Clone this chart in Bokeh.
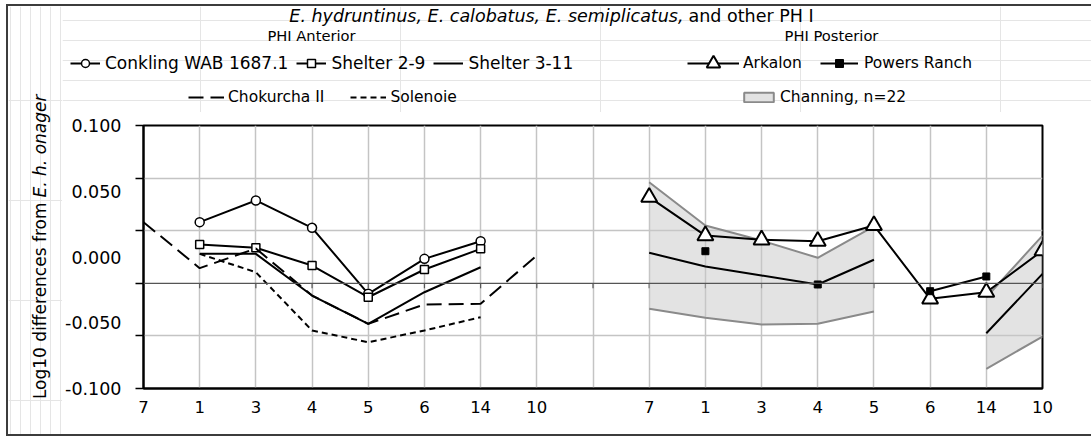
import math
from bokeh.plotting import figure
from bokeh.layouts import row, column
from bokeh.models import (Range1d, FixedTicker, PrintfTickFormatter, Label, Legend,
                          LegendItem, Span, Spacer)
from bokeh.embed import file_html
from bokeh.resources import INLINE

nan = float("nan")
FONT = "DejaVu Sans"

# ---------------- data ----------------
x_labels = ["7", "1", "3", "4", "5", "6", "14", "10"]

# PHI Anterior
conkling = [nan, 0.0265, 0.0430, 0.0222, -0.0280, -0.0014, 0.0120, nan]
shelter_2_9 = [nan, 0.0095, 0.0070, -0.0065, -0.0306, -0.0095, 0.0062, nan]
shelter_3_11 = [nan, 0.0024, 0.0024, -0.0293, -0.0508, -0.0268, -0.0078, nan]
chokurcha_ii = [0.0265, -0.0085, 0.0065, -0.0293, -0.0508, -0.0361, -0.0356, 0.0011]
solenoie = [nan, 0.0024, -0.0116, -0.0559, -0.0648, -0.0559, -0.0458, nan]

# PHI Posterior
arkalon = [0.0455, 0.0163, 0.0131, 0.0120, 0.0240, -0.0318, -0.0268, 0.0049]
powers_ranch = [nan, 0.0044, nan, -0.0209, nan, -0.0260, -0.0148, nan]
channing_upper = [0.0569, 0.0240, 0.0125, -0.0006, 0.0232, nan, -0.0306, 0.0163]
channing_mean = [0.0032, -0.0072, -0.0141, -0.0209, -0.0021, nan, -0.0580, -0.0128]
channing_lower = [-0.0394, -0.0462, -0.0513, -0.0508, -0.0414, nan, -0.0850, -0.0605]

y_tick_labels = [0.100, 0.050, 0.000, -0.050, -0.100]
grid_values = [0.10, 0.06, 0.02, -0.02, -0.06, -0.10]
zero_line_value = -0.02

# ---------------- page geometry (px) ----------------
PW = 1091
OX, OY = 8, 6          # top-left of the bordered chart box on the page
BOTTOM = 434           # bottom edge of the bordered chart box
LX = 62                # right edge of the y-title strip
HY = 112               # bottom edge of the header strip
CW, CH = PW - OX, BOTTOM - OY
FL, FR, FT, FB = 142, 1042, 125, 388   # plot frame edges on the page
BORDER = "#3c3c3c"


def strip(x0, y0, x1, y1):
    f = figure(width=x1 - x0, height=y1 - y0, x_range=Range1d(x0, x1),
               y_range=Range1d(y1, y0), output_backend="svg",
               toolbar_location=None, tools="", x_axis_location=None,
               y_axis_location=None, min_border=0, frame_align=False)
    f.outline_line_color = None
    f.background_fill_color = "white"
    f.border_fill_color = "white"
    return f


# ---------------- main plot ----------------
ant_x = list(range(0, 8))
post_x = list(range(9, 17))
tick_positions = list(range(17))
tick_labels = {}
for i, lab in zip(ant_x, x_labels):
    tick_labels[i] = lab
for i, lab in zip(post_x, x_labels):
    tick_labels[i] = lab
tick_labels[8] = ""

p = figure(width=PW - LX, height=BOTTOM - HY, x_range=Range1d(0, 16),
           y_range=Range1d(-0.1, 0.1), output_backend="svg", toolbar_location=None,
           tools="", frame_align=False,
           min_border_left=FL - LX, min_border_right=PW - FR,
           min_border_top=FT - HY, min_border_bottom=BOTTOM - FB)
p.outline_line_color = "black"
p.outline_line_width = 2
p.background_fill_color = "white"
p.border_fill_color = "white"

xa = p.xaxis[0]
xa.ticker = FixedTicker(ticks=tick_positions)
xa.major_label_overrides = tick_labels
xa.axis_line_color = "black"
xa.axis_line_width = 2
xa.major_tick_line_color = None
xa.minor_tick_line_color = None
xa.major_tick_out = 0
xa.major_tick_in = 0
xa.major_label_standoff = 12
xa.major_label_text_font = FONT
xa.major_label_text_font_size = "16.5px"
xa.major_label_text_color = "black"

ya = p.yaxis[0]
ya.ticker = FixedTicker(ticks=y_tick_labels, minor_ticks=grid_values)
ya.formatter = PrintfTickFormatter(format="%.3f")
ya.axis_line_color = "black"
ya.axis_line_width = 2
ya.major_tick_line_color = None
ya.major_tick_out = 8
ya.major_tick_in = 0
ya.minor_tick_out = 8
ya.minor_tick_in = 0
ya.minor_tick_line_color = "black"
ya.minor_tick_line_width = 1.5
ya.major_label_standoff = 14
ya.major_label_text_font = FONT
ya.major_label_text_font_size = "17.5px"
ya.major_label_text_color = "black"

p.xgrid.ticker = FixedTicker(ticks=tick_positions)
p.ygrid.ticker = FixedTicker(ticks=[v for v in grid_values if v != zero_line_value])
for g in (p.xgrid, p.ygrid):
    g.grid_line_color = "#c4c4c4"
    g.grid_line_width = 1.5

p.add_layout(Span(location=zero_line_value, dimension="width", line_color="#555555",
                  line_width=1.2))
tick_len = 0.2 * 5 / (FB - FT)
p.segment(x0=tick_positions, y0=[zero_line_value] * 17, x1=tick_positions,
          y1=[zero_line_value - tick_len] * 17, line_color="#555555", line_width=1.2)


def split_segments(xs, a, b):
    segs, cur = [], []
    for x, u, l in zip(xs, a, b):
        if math.isnan(u) or math.isnan(l):
            if cur:
                segs.append(cur)
                cur = []
        else:
            cur.append((x, u, l))
    if cur:
        segs.append(cur)
    return segs


GREY = "#8a8a8a"
for seg in split_segments(post_x, channing_upper, channing_lower):
    p.varea(x=[s[0] for s in seg], y1=[s[1] for s in seg], y2=[s[2] for s in seg],
            fill_color="#c8c8c8", fill_alpha=0.5)
p.line(post_x, channing_upper, line_color=GREY, line_width=2)
p.line(post_x, channing_lower, line_color=GREY, line_width=2)
p.line(post_x, channing_mean, line_color="black", line_width=2)

LWD = 2
STY = {
    "conk_m": dict(marker="circle", size=9, fill_color="white", line_color="black", line_width=1.5),
    "s29_m": dict(marker="square", size=8, fill_color="white", line_color="black", line_width=1.5),
    "ark_m": dict(marker="triangle", size=16, fill_color="white", line_color="black", line_width=2),
    "pow_m": dict(marker="square", size=7, fill_color="black", line_color="black"),
    "solid": dict(line_color="black", line_width=LWD),
    "chok": dict(line_color="black", line_width=LWD, line_dash="15 7"),
    "sol": dict(line_color="black", line_width=LWD, line_dash="6 4"),
}

p.line(ant_x, conkling, **STY["solid"])
p.scatter(ant_x, conkling, **STY["conk_m"])
p.line(ant_x, shelter_2_9, **STY["solid"])
p.scatter(ant_x, shelter_2_9, **STY["s29_m"])
p.line(ant_x, shelter_3_11, **STY["solid"])
p.line(ant_x, chokurcha_ii, **STY["chok"])
p.line(ant_x, solenoie, **STY["sol"])

p.line(post_x, arkalon, **STY["solid"])
p.scatter(post_x, arkalon, **STY["ark_m"])
p.line(post_x, powers_ranch, **STY["solid"])
p.scatter(post_x, powers_ranch, **STY["pow_m"])

# ---------------- header (title + legends) ----------------
hdr = strip(LX, OY, PW, HY)


def text(f, s, x, y, size, align="center", style="normal", angle=0.0):
    f.add_layout(Label(x=x, y=y, text=s, text_font=FONT, text_font_size=f"{size}px",
                       text_font_style=style, text_align=align, text_baseline="middle",
                       angle=angle, text_color="black"))


text(hdr, "E. hydruntinus, E. calobatus, E. semiplicatus,", 683, 15, 17.5, align="right", style="italic")
text(hdr, "and other PH I", 688, 15, 17.5, align="left")
text(hdr, "PHI Anterior", 311, 35, 14.7)
text(hdr, "PHI Posterior", 831, 35, 14.7)

# legend swatches: invisible proxies that carry the series' styles
e = dict(x=[nan], y=[nan])
k_conk = [hdr.line(**e, **STY["solid"]), hdr.scatter(**e, **STY["conk_m"])]
k_s29 = [hdr.line(**e, **STY["solid"]), hdr.scatter(**e, **STY["s29_m"])]
k_s311 = [hdr.line(**e, **STY["solid"])]
k_chok = [hdr.line(**e, **STY["chok"])]
k_sol = [hdr.line(**e, **STY["sol"])]
k_ark = [hdr.line(**e, **STY["solid"]), hdr.scatter(**e, **STY["ark_m"])]
k_pow = [hdr.line(**e, **STY["solid"]), hdr.scatter(**e, **STY["pow_m"])]
k_chan = [hdr.quad(left=[nan], right=[nan], top=[nan], bottom=[nan], fill_color="#e2e2e2",
                   line_color=GREY, line_width=2)]


def add_legend(items, left_px, center_py, size, glyph_width, spacing, standoff=5,
               glyph_height=20):
    h = max(glyph_height, 22)
    lg = Legend(items=items, location=(left_px - LX, HY - center_py - h / 2),
                orientation="horizontal", glyph_width=glyph_width, glyph_height=glyph_height,
                label_height=22, label_width=10, label_standoff=standoff, spacing=spacing,
                padding=0, margin=0, border_line_color=None, background_fill_alpha=0,
                label_text_font=FONT, label_text_font_size=f"{size}px",
                label_text_color="black")
    hdr.add_layout(lg)


add_legend([LegendItem(label="Conkling WAB 1687.1", renderers=k_conk),
            LegendItem(label="Shelter 2-9", renderers=k_s29),
            LegendItem(label="Shelter 3-11", renderers=k_s311)],
           70, 63, 17, 30, 8)
add_legend([LegendItem(label="Chokurcha II", renderers=k_chok),
            LegendItem(label="Solenoie", renderers=k_sol)],
           188, 97, 15.5, 36, 26, standoff=4)
add_legend([LegendItem(label="Arkalon", renderers=k_ark)],
           687, 63, 15.5, 52, 0, standoff=4, glyph_height=34)
add_legend([LegendItem(label="Powers Ranch", renderers=k_pow)],
           820, 63, 15.5, 38, 0, standoff=6)
add_legend([LegendItem(label="Channing, n=22", renderers=k_chan)],
           740, 97, 15.5, 37, 0, standoff=3, glyph_height=12)

# ---------------- left strip (y-axis title) ----------------
lft = strip(OX, OY, LX, BOTTOM)
text(lft, "Log10 differences from", 39, 202, 17, align="right", angle=math.pi / 2)
text(lft, "E. h. onager", 39, 197, 17, align="left", style="italic", angle=math.pi / 2)

# ---------------- assemble: bordered chart box offset on the page ----------------
box = row(lft, column(hdr, p))
box.styles = {"box-shadow": f"0 0 0 2px {BORDER}"}
layout = row(Spacer(width=OX, height=BOTTOM),
             column(Spacer(width=CW, height=OY), box))
open("out.html", "w").write(file_html(layout, INLINE))
